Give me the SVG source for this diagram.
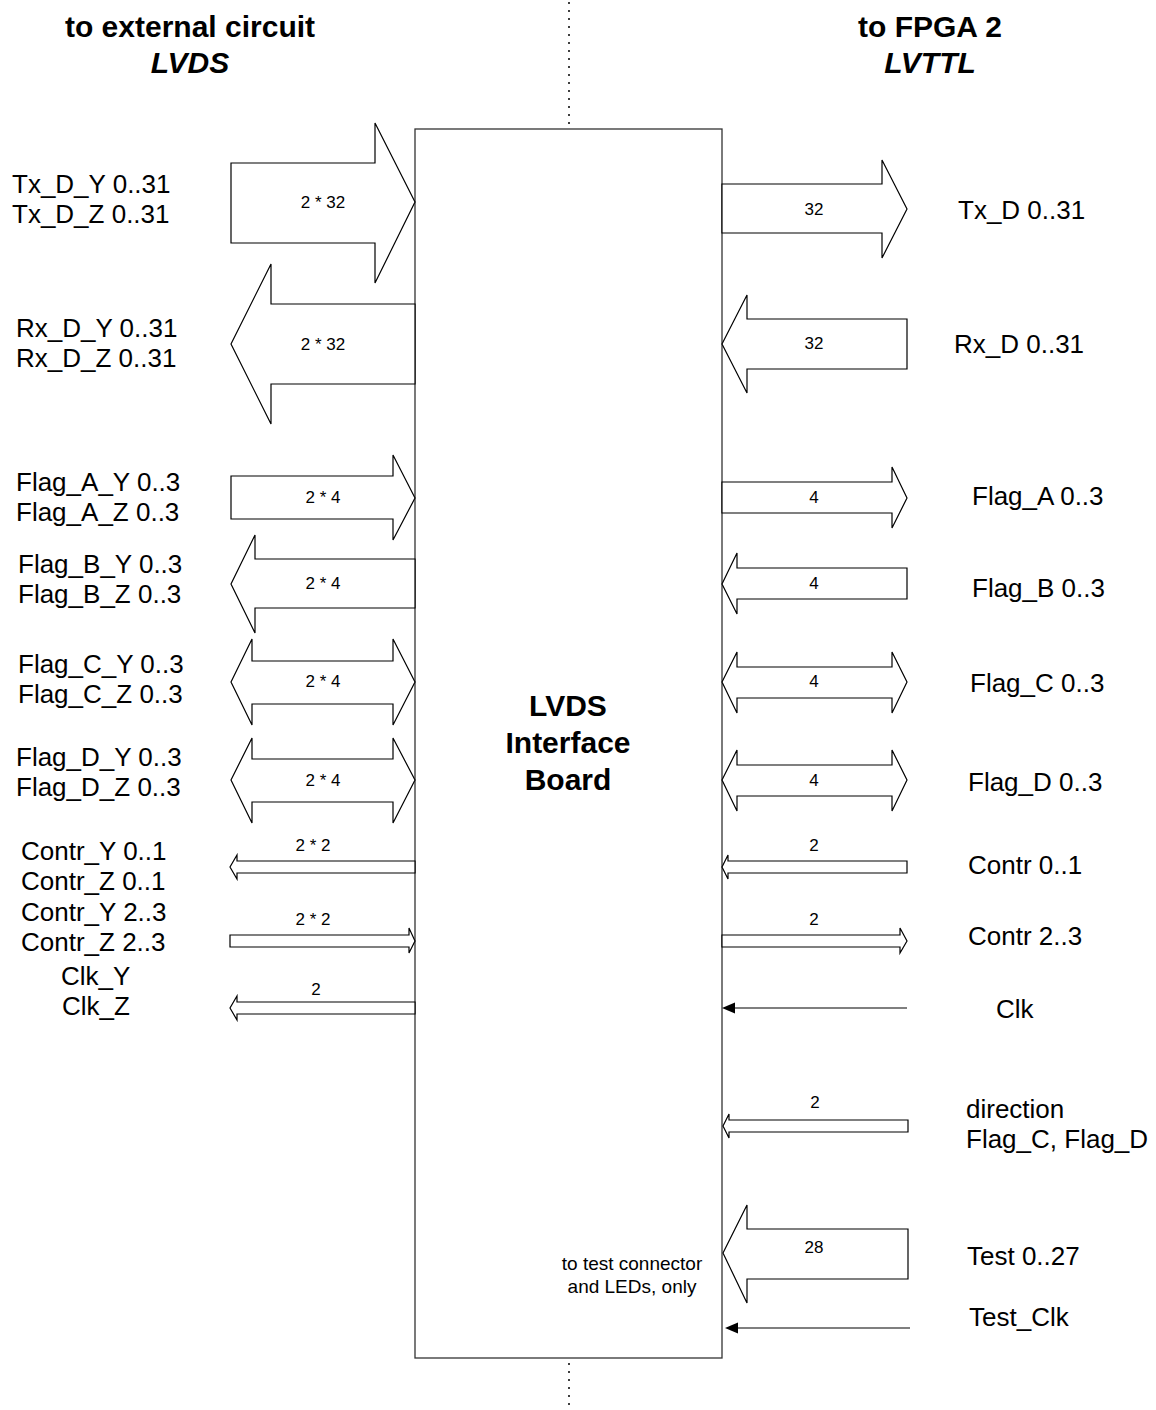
<svg xmlns="http://www.w3.org/2000/svg" width="1156" height="1410" viewBox="0 0 1156 1410">
<style>
text{font-family:"Liberation Sans",Arial,sans-serif;fill:#000}
.lbl{font-size:26px}
.hd{font-size:30px;font-weight:bold;text-anchor:middle}
.hdi{font-size:30px;font-weight:bold;font-style:italic;text-anchor:middle}
.num{font-size:17px;text-anchor:middle}
.small{font-size:19px;text-anchor:middle}
.arr{fill:#fff;stroke:#000;stroke-width:1.2;stroke-linejoin:miter}
.wire{stroke:#000;stroke-width:1.2;fill:none}
.dot{stroke:#000;stroke-width:1.5;stroke-dasharray:2 6;fill:none}
</style>
<rect width="1156" height="1410" fill="#fff"/>
<g id="headings">
<text class="hd" x="190" y="37">to external circuit</text>
<text class="hdi" x="190" y="73">LVDS</text>
<text class="hd" x="930" y="37">to FPGA 2</text>
<text class="hdi" x="930" y="73">LVTTL</text>
</g>
<g id="divider">
<line class="dot" x1="569" y1="2" x2="569" y2="129"/>
<line class="dot" x1="569" y1="1363" x2="569" y2="1410"/>
</g>
<g id="board">
<rect x="415" y="129" width="307" height="1229" fill="#fff" stroke="#333" stroke-width="1.3"/>
<text class="hd" x="568" y="716">LVDS</text>
<text class="hd" x="568" y="753">Interface</text>
<text class="hd" x="568" y="790">Board</text>
<text class="small" x="632" y="1270">to test connector</text>
<text class="small" x="632" y="1293">and LEDs, only</text>
</g>
<g id="connectors">
<!-- left side -->
<polygon class="arr" points="231,163 375,163 375,123 415,202 375,283 375,243 231,243"/>
<polygon class="arr" points="415,304 271,304 271,264 231,344 271,424 271,384 415,384"/>
<polygon class="arr" points="231,476 393,476 393,455 415,498 393,540 393,519 231,519"/>
<polygon class="arr" points="415,559 255,559 255,535 231,584 255,633 255,608 415,608"/>
<polygon class="arr" points="231,682 252,639 252,661 393,661 393,639 415,682 393,725 393,704 252,704 252,725"/>
<polygon class="arr" points="231,780 252,738 252,759 393,759 393,738 415,780 393,823 393,802 252,802 252,823"/>
<polygon class="arr" points="415,861 237,861 237,855 230,867 237,879 237,873 415,873"/>
<polygon class="arr" points="230,935 409,935 409,928 415,941 409,953 409,947 230,947"/>
<polygon class="arr" points="415,1002 237,1002 237,996 230,1008 237,1020 237,1014 415,1014"/>
<!-- right side -->
<polygon class="arr" points="722,184 882,184 882,160 907,209 882,258 882,233 722,233"/>
<polygon class="arr" points="907,319 747,319 747,295 722,344 747,393 747,369 907,369"/>
<polygon class="arr" points="722,482 892,482 892,467 907,498 892,528 892,513 722,513"/>
<polygon class="arr" points="907,568 737,568 737,553 722,584 737,614 737,599 907,599"/>
<polygon class="arr" points="722,682 737,652 737,667 892,667 892,652 907,682 892,713 892,698 737,698 737,713"/>
<polygon class="arr" points="722,780 737,750 737,765 892,765 892,750 907,780 892,811 892,796 737,796 737,811"/>
<polygon class="arr" points="907,861 728,861 728,855 722,867 728,879 728,873 907,873"/>
<polygon class="arr" points="722,935 900,935 900,928 907,941 900,953 900,947 722,947"/>
<line class="wire" x1="907" y1="1008" x2="734" y2="1008"/>
<polygon points="722,1008 735,1002.5 735,1013.5" fill="#000"/>
<polygon class="arr" points="908,1120 729,1120 729,1114 723,1126 729,1138 729,1132 908,1132"/>
<polygon class="arr" points="908,1229 747,1229 747,1205 723,1253 747,1303 747,1279 908,1279"/>
<line class="wire" x1="910" y1="1328" x2="737" y2="1328" stroke="#333"/>
<polygon points="725,1328 738,1322.5 738,1333.5" fill="#000"/>
</g>
<g id="bus-widths">
<text class="num" x="323" y="208">2 * 32</text>
<text class="num" x="323" y="350">2 * 32</text>
<text class="num" x="323" y="503">2 * 4</text>
<text class="num" x="323" y="589">2 * 4</text>
<text class="num" x="323" y="687">2 * 4</text>
<text class="num" x="323" y="786">2 * 4</text>
<text class="num" x="313" y="851">2 * 2</text>
<text class="num" x="313" y="925">2 * 2</text>
<text class="num" x="316" y="995">2</text>
<text class="num" x="814" y="215">32</text>
<text class="num" x="814" y="349">32</text>
<text class="num" x="814" y="503">4</text>
<text class="num" x="814" y="589">4</text>
<text class="num" x="814" y="687">4</text>
<text class="num" x="814" y="786">4</text>
<text class="num" x="814" y="851">2</text>
<text class="num" x="814" y="925">2</text>
<text class="num" x="815" y="1108">2</text>
<text class="num" x="814" y="1253">28</text>
</g>
<g id="left-signals">
<text class="lbl" x="12" y="193">Tx_D_Y 0..31</text>
<text class="lbl" x="12" y="223">Tx_D_Z 0..31</text>
<text class="lbl" x="16" y="337">Rx_D_Y 0..31</text>
<text class="lbl" x="16" y="367">Rx_D_Z 0..31</text>
<text class="lbl" x="16" y="491">Flag_A_Y 0..3</text>
<text class="lbl" x="16" y="521">Flag_A_Z 0..3</text>
<text class="lbl" x="18" y="573">Flag_B_Y 0..3</text>
<text class="lbl" x="18" y="603">Flag_B_Z 0..3</text>
<text class="lbl" x="18" y="673">Flag_C_Y 0..3</text>
<text class="lbl" x="18" y="703">Flag_C_Z 0..3</text>
<text class="lbl" x="16" y="766">Flag_D_Y 0..3</text>
<text class="lbl" x="16" y="796">Flag_D_Z 0..3</text>
<text class="lbl" x="21" y="860">Contr_Y 0..1</text>
<text class="lbl" x="21" y="890">Contr_Z 0..1</text>
<text class="lbl" x="21" y="921">Contr_Y 2..3</text>
<text class="lbl" x="21" y="951">Contr_Z 2..3</text>
<text class="lbl" x="61" y="985">Clk_Y</text>
<text class="lbl" x="62" y="1015">Clk_Z</text>
</g>
<g id="right-signals">
<text class="lbl" x="958" y="219">Tx_D 0..31</text>
<text class="lbl" x="954" y="353">Rx_D 0..31</text>
<text class="lbl" x="972" y="505">Flag_A 0..3</text>
<text class="lbl" x="972" y="597">Flag_B 0..3</text>
<text class="lbl" x="970" y="692">Flag_C 0..3</text>
<text class="lbl" x="968" y="791">Flag_D 0..3</text>
<text class="lbl" x="968" y="874">Contr 0..1</text>
<text class="lbl" x="968" y="945">Contr 2..3</text>
<text class="lbl" x="996" y="1018">Clk</text>
<text class="lbl" x="966" y="1118">direction</text>
<text class="lbl" x="966" y="1148">Flag_C, Flag_D</text>
<text class="lbl" x="967" y="1265">Test 0..27</text>
<text class="lbl" x="969" y="1326">Test_Clk</text>
</g>
</svg>
